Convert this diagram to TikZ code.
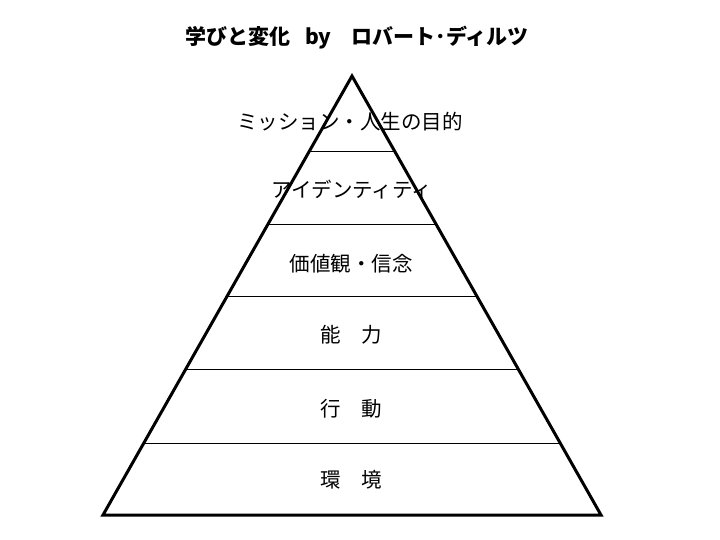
\documentclass[tikz,border=0pt]{standalone}
\usepackage{fontspec}
\usepackage{tikz}
\usetikzlibrary{calc}
\newfontfamily\jp{Noto Sans CJK JP}

\begin{document}
\begin{tikzpicture}[x=1pt,y=-1pt]
\useasboundingbox (0,0) rectangle (720,540);
\tikzset{level/.style={font=\jp\fontsize{20.5}{20.5}\selectfont, inner sep=0pt}}
\coordinate (apex) at (352,76);
\coordinate (bl) at (103,515);
\coordinate (br) at (601,515);
\node [font=\jp\bfseries\fontsize{21}{21}\selectfont, inner sep=0pt] (title) at (357,38) {学びと変化\hspace{15pt}by\hspace{20pt}ロバート･ディルツ};
% layers
\foreach \f in {0.1731,0.3394,0.5034,0.6697,0.836}
  \draw [line width=1pt] ($(apex)!\f!(bl)$) -- ($(apex)!\f!(br)$);
\draw [line width=3pt, line join=miter] (apex) -- (bl) -- (br) -- cycle;
\node [level] (mission) at (350,122) {ミッション・人生の目的};
\node [level] (identity) at (352,190) {アイデンティティ};
\node [level] (belief) at (351,264) {価値観・信念};
\node [level] (ability) at (351,335) {能　力};
\node [level] (behavior) at (351,409) {行　動};
\node [level] (environment) at (351,480) {環　境};
\end{tikzpicture}
\end{document}
